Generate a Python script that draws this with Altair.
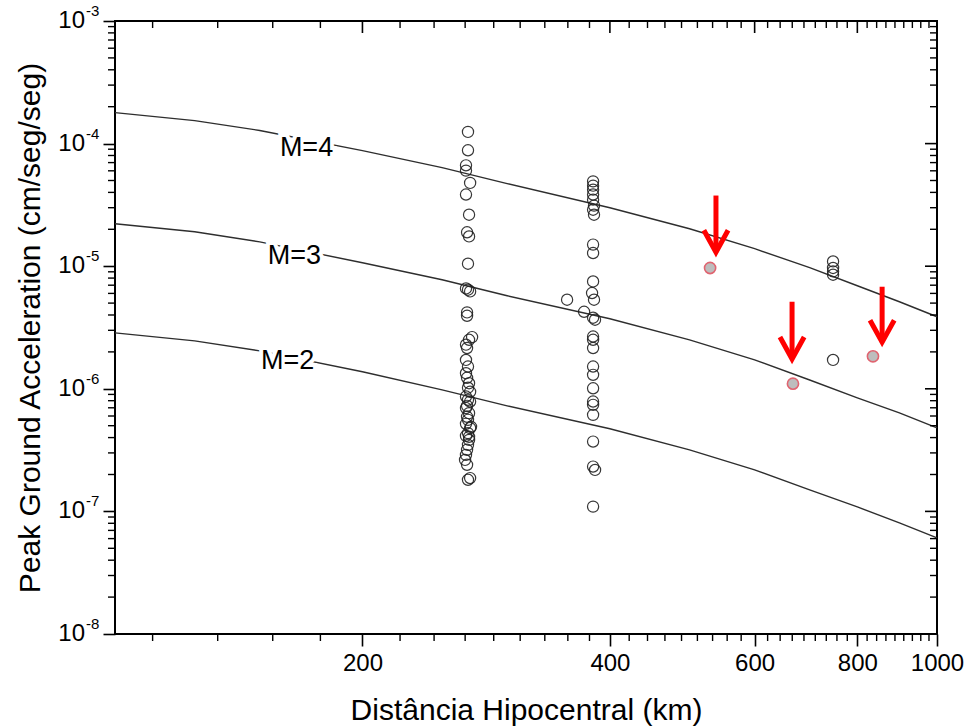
import altair as alt
import pandas as pd

FONT = "Liberation Sans"

# ---------------- data ----------------
curve_dist = [100, 125, 150, 200, 250, 300, 400, 500, 600, 700, 800, 900, 1000]
pga_m4 = [1.79e-4, 1.54e-4, 1.28e-4, 8.77e-5, 6.37e-5, 4.72e-5, 3.00e-5, 2.02e-5, 1.39e-5, 9.72e-6, 6.93e-6, 5.13e-6, 3.87e-6]
pga_m3 = [2.22e-5, 1.91e-5, 1.58e-5, 1.068e-5, 7.76e-6, 5.74e-6, 3.73e-6, 2.51e-6, 1.72e-6, 1.18e-6, 8.44e-7, 6.37e-7, 4.80e-7]
pga_m2 = [2.86e-6, 2.46e-6, 2.04e-6, 1.376e-6, 9.81e-7, 7.26e-7, 4.72e-7, 3.18e-7, 2.18e-7, 1.50e-7, 1.088e-7, 8.05e-8, 6.08e-8]

curve_labels = ["M=4", "M=3", "M=2"]
label_dist = [171.0, 165.3, 162.2]
label_pga = [9.27e-5, 1.20e-5, 1.67e-6]

# open circles: station at ~269 km
cl1_dist = [268.8, 268.8, 267.3, 267.3, 270.4, 267.3, 269.6, 268.1, 269.6, 268.8,
            267.3, 268.8, 270.4, 268.1, 268.1, 271.9, 269.6, 267.3, 268.1, 267.3,
            268.8, 267.3, 268.1, 269.6, 268.8, 270.4, 267.3, 268.8, 270.4, 268.1,
            267.3, 269.6, 268.1, 268.8, 267.3, 270.4, 268.8, 267.3, 269.6, 268.8,
            268.1, 267.3, 266.6, 268.1, 270.4, 268.8, 271.1, 269.6]
cl1_pga = [1.246e-4, 8.82e-5, 6.65e-5, 6.02e-5, 4.78e-5, 3.84e-5, 2.63e-5, 1.89e-5, 1.75e-5, 1.048e-5,
           6.59e-6, 6.43e-6, 6.23e-6, 4.20e-6, 3.94e-6, 2.64e-6, 2.51e-6, 2.29e-6, 2.15e-6, 1.72e-6,
           1.52e-6, 1.34e-6, 1.23e-6, 1.11e-6, 1.02e-6, 9.45e-7, 8.65e-7, 8.13e-7, 7.87e-7, 7.26e-7,
           6.96e-7, 6.33e-7, 5.91e-7, 5.58e-7, 5.18e-7, 4.78e-7, 4.35e-7, 4.13e-7, 3.83e-7, 3.49e-7,
           3.18e-7, 2.89e-7, 2.63e-7, 2.40e-7, 1.87e-7, 1.81e-7, 4.90e-7, 4.06e-7]

# open circles: station at ~382 km
cl2_dist = [381.6, 381.6, 381.6, 381.6, 381.6, 382.6, 381.6, 382.6, 381.6, 381.6,
            381.6, 380.5, 382.6, 381.6, 383.7, 381.6, 381.6, 381.6, 381.6, 381.6,
            381.6, 381.6, 381.6, 381.6, 381.6, 381.6, 383.7, 381.6]
cl2_pga = [4.92e-5, 4.54e-5, 4.21e-5, 3.84e-5, 3.49e-5, 3.12e-5, 2.89e-5, 2.63e-5, 1.50e-5, 1.28e-5,
           7.51e-6, 6.04e-6, 5.33e-6, 3.80e-6, 3.66e-6, 2.67e-6, 2.51e-6, 2.15e-6, 1.52e-6, 1.30e-6,
           1.01e-6, 7.87e-7, 7.40e-7, 6.13e-7, 3.71e-7, 2.32e-7, 2.18e-7, 1.094e-7]

# other open circles
other_dist = [354.8, 372.1, 747.4, 747.4, 747.4, 747.4, 747.4]
other_pga = [5.33e-6, 4.25e-6, 1.094e-5, 9.67e-6, 9.07e-6, 8.52e-6, 1.72e-6]

# highlighted (grey) points
hl_dist = [529.6, 668.0, 835.8]
hl_pga = [9.67e-6, 1.10e-6, 1.84e-6]

# red arrows pointing at highlighted points
arrow_dist = [538.4, 666.3, 857.5]
arrow_top = [3.77e-5, 5.13e-6, 6.8e-6]
arrow_tip = [1.30e-5, 1.75e-6, 2.40e-6]

# axis ticks
x_major = [200, 400, 600, 800, 1000]
x_minor = [round(k * 200 / 9, 3) for k in range(5, 45) if k % 9 != 0]
y_major = [1e-3, 1e-4, 1e-5, 1e-6, 1e-7, 1e-8]
y_exp = ["-3", "-4", "-5", "-6", "-7", "-8"]
y_minor = [m * 10.0 ** e for e in range(-8, -3) for m in range(2, 10)]

# ---------------- tables ----------------
curves = pd.DataFrame({
    "d": curve_dist * 3,
    "pga": pga_m4 + pga_m3 + pga_m2,
    "M": ["M=4"] * len(curve_dist) + ["M=3"] * len(curve_dist) + ["M=2"] * len(curve_dist),
})
labels_df = pd.DataFrame({"d": label_dist, "pga": label_pga, "t": curve_labels})
open_df = pd.DataFrame({"d": cl1_dist + cl2_dist + other_dist, "pga": cl1_pga + cl2_pga + other_pga})
hl_df = pd.DataFrame({"d": hl_dist, "pga": hl_pga})
arrow_df = pd.DataFrame({"d": arrow_dist, "pga": arrow_top, "tip": arrow_tip})
xmaj_df = pd.DataFrame({"d": x_major})
xmin_df = pd.DataFrame({"d": x_minor})
ymaj_df = pd.DataFrame({"pga": y_major, "e": y_exp, "b": ["10"] * len(y_major)})
ymin_df = pd.DataFrame({"pga": y_minor})

W, H = 822, 613
xs = alt.Scale(type="log", domain=[100, 1000], nice=False)
ys = alt.Scale(type="log", domain=[1e-8, 1e-3], nice=False)

x_axis = alt.Axis(values=x_major, format="d", tickSize=12, tickWidth=1.6, tickColor="black",
                  labelFontSize=24, labelFont=FONT, labelColor="black", labelPadding=5,
                  title="Distância Hipocentral (km)", titleFont=FONT, titleFontSize=30,
                  titleFontWeight="normal", titleColor="black", titlePadding=20,
                  grid=False, domain=False, labelFlush=False)
y_axis = alt.Axis(values=y_major, labels=False, tickSize=12, tickWidth=1.6, tickColor="black",
                  title="Peak Ground Acceleration (cm/seg/seg)", titleFont=FONT, titleFontSize=30,
                  titleFontWeight="normal", titleColor="black", titlePadding=57,
                  grid=False, domain=False)


def X(field="d"):
    return alt.X(f"{field}:Q", scale=xs, axis=x_axis)


def Y(field="pga"):
    return alt.Y(f"{field}:Q", scale=ys, axis=y_axis)


lines = alt.Chart(curves).mark_line(color="#2e2e2e", strokeWidth=1.4).encode(
    x=X(), y=Y(), detail="M:N",
)

label_halo = alt.Chart(labels_df).mark_text(
    font=FONT, fontSize=27, color="white", stroke="white", strokeWidth=8
).encode(x=X(), y=Y(), text="t:N")
label_text = alt.Chart(labels_df).mark_text(
    font=FONT, fontSize=27, color="black"
).encode(x=X(), y=Y(), text="t:N")

open_pts = alt.Chart(open_df).mark_point(
    shape="circle", filled=False, size=125, stroke="#222222", strokeWidth=1.2, opacity=0.9
).encode(x=X(), y=Y())

hl_pts = alt.Chart(hl_df).mark_point(
    shape="circle", filled=True, size=125, fill="#bdbdbd", stroke="#e06470", strokeWidth=1.6, opacity=1
).encode(x=X(), y=Y())

arrow_shaft = alt.Chart(arrow_df).mark_rule(color="#ff0000", strokeWidth=5).encode(
    x=X(), y=Y(), y2="tip:Q"
)
arrow_head = alt.Chart(arrow_df).mark_point(
    shape="M-0.55,-1L0,0L0.55,-1", filled=False, stroke="#ff0000", strokeWidth=5,
    size=1936, opacity=1, strokeJoin="miter", strokeCap="butt"
).encode(x=X(), y=Y("tip"))

# minor / mirror ticks
tick_col = "black"
bot_minor = alt.Chart(xmin_df).mark_rule(color=tick_col, strokeWidth=1.4).encode(
    x=X(), y=alt.value(H), y2=alt.value(H + 7))
top_minor = alt.Chart(xmin_df).mark_rule(color=tick_col, strokeWidth=1.4).encode(
    x=X(), y=alt.value(0), y2=alt.value(7))
top_major = alt.Chart(xmaj_df).mark_rule(color=tick_col, strokeWidth=1.6).encode(
    x=X(), y=alt.value(0), y2=alt.value(12))
left_minor = alt.Chart(ymin_df).mark_rule(color=tick_col, strokeWidth=1.4).encode(
    y=Y(), x=alt.value(0), x2=alt.value(-7))
right_minor = alt.Chart(ymin_df).mark_rule(color=tick_col, strokeWidth=1.4).encode(
    y=Y(), x=alt.value(W), x2=alt.value(W - 7))
right_major = alt.Chart(ymaj_df).mark_rule(color=tick_col, strokeWidth=1.6).encode(
    y=Y(), x=alt.value(W), x2=alt.value(W - 12))

ylab_base = alt.Chart(ymaj_df).mark_text(
    font=FONT, fontSize=24, align="right", baseline="middle", color="black"
).encode(y=Y(), x=alt.value(-30), text="b:N")
ylab_exp = alt.Chart(ymaj_df).mark_text(
    font=FONT, fontSize=15, align="left", baseline="middle", color="black", dy=-10
).encode(y=Y(), x=alt.value(-29), text="e:N")

chart = alt.layer(
    lines, label_halo, label_text, open_pts, hl_pts, arrow_shaft, arrow_head,
    bot_minor, top_minor, top_major, left_minor, right_minor, right_major,
    ylab_base, ylab_exp,
).properties(
    width=W, height=H,
    autosize=alt.AutoSizeParams(type="none"),
    padding={"left": 115, "top": 21, "right": 30, "bottom": 93},
    background="white",
).configure_view(stroke="black", strokeWidth=2)

chart.save("out.html", embed_options={"renderer": "svg", "actions": False})
